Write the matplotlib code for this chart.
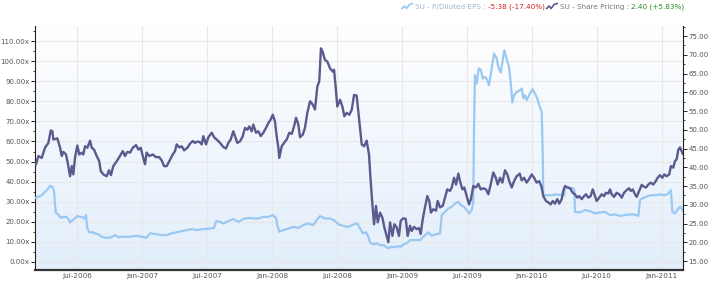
import numpy as np
import matplotlib
matplotlib.use("Agg")
import matplotlib.pyplot as plt
from matplotlib.ticker import MultipleLocator, FuncFormatter
from matplotlib.colors import LinearSegmentedColormap

# ---- data (x as decimal year) ----
price_t = [2006.182, 2006.200, 2006.226, 2006.251, 2006.277, 2006.295, 2006.308, 2006.315, 2006.346, 2006.367,
           2006.380, 2006.392, 2006.413, 2006.426, 2006.444, 2006.457, 2006.469, 2006.482, 2006.500, 2006.515,
           2006.534, 2006.546, 2006.559, 2006.577, 2006.598, 2006.611, 2006.629, 2006.649, 2006.669, 2006.680,
           2006.700, 2006.726, 2006.744, 2006.759, 2006.777, 2006.803, 2006.823, 2006.850, 2006.867, 2006.885,
           2006.906, 2006.927, 2006.952, 2006.970, 2006.988, 2007.004, 2007.021, 2007.034, 2007.054, 2007.081,
           2007.106, 2007.131, 2007.150, 2007.168, 2007.188, 2007.208, 2007.235, 2007.252, 2007.265, 2007.285,
           2007.304, 2007.322, 2007.347, 2007.368, 2007.389, 2007.406, 2007.419, 2007.439, 2007.458, 2007.470,
           2007.491, 2007.509, 2007.535, 2007.553, 2007.573, 2007.599, 2007.624, 2007.645, 2007.663, 2007.681,
           2007.701, 2007.714, 2007.732, 2007.753, 2007.774, 2007.791, 2007.809, 2007.824, 2007.843, 2007.855,
           2007.876, 2007.894, 2007.912, 2007.932, 2007.953, 2007.971, 2007.989, 2008.005, 2008.022, 2008.035,
           2008.048, 2008.055, 2008.074, 2008.092, 2008.112, 2008.132, 2008.151, 2008.169, 2008.184, 2008.202,
           2008.215, 2008.236, 2008.253, 2008.271, 2008.292, 2008.313, 2008.330, 2008.348, 2008.363, 2008.376,
           2008.389, 2008.407, 2008.425, 2008.446, 2008.467, 2008.477, 2008.490, 2008.502, 2008.523, 2008.541,
           2008.556, 2008.574, 2008.594, 2008.613, 2008.631, 2008.651, 2008.671, 2008.690, 2008.708, 2008.728,
           2008.746, 2008.759, 2008.775, 2008.785, 2008.800, 2008.813, 2008.831, 2008.849, 2008.864, 2008.882,
           2008.895, 2008.908, 2008.926, 2008.941, 2008.959, 2008.977, 2008.990, 2009.010, 2009.029, 2009.044,
           2009.062, 2009.075, 2009.093, 2009.113, 2009.131, 2009.144, 2009.160, 2009.177, 2009.195, 2009.210,
           2009.223, 2009.241, 2009.262, 2009.275, 2009.293, 2009.314, 2009.331, 2009.349, 2009.370, 2009.383,
           2009.401, 2009.416, 2009.434, 2009.447, 2009.465, 2009.480, 2009.498, 2009.516, 2009.531, 2009.549,
           2009.570, 2009.588, 2009.606, 2009.626, 2009.647, 2009.665, 2009.683, 2009.703, 2009.722, 2009.737,
           2009.755, 2009.773, 2009.793, 2009.811, 2009.826, 2009.845, 2009.863, 2009.883, 2009.907, 2009.922,
           2009.940, 2009.960, 2009.978, 2009.999, 2010.017, 2010.037, 2010.057, 2010.076, 2010.088, 2010.109,
           2010.127, 2010.145, 2010.161, 2010.178, 2010.196, 2010.211, 2010.230, 2010.242, 2010.255, 2010.273,
           2010.294, 2010.315, 2010.332, 2010.350, 2010.365, 2010.384, 2010.402, 2010.417, 2010.435, 2010.453,
           2010.469, 2010.486, 2010.499, 2010.519, 2010.538, 2010.556, 2010.571, 2010.589, 2010.602, 2010.615,
           2010.633, 2010.653, 2010.673, 2010.692, 2010.710, 2010.730, 2010.748, 2010.761, 2010.777, 2010.794,
           2010.807, 2010.827, 2010.846, 2010.864, 2010.879, 2010.897, 2010.915, 2010.935, 2010.954, 2010.969,
           2010.987, 2011.005, 2011.020, 2011.038, 2011.058, 2011.071, 2011.089, 2011.102, 2011.115, 2011.128,
           2011.141, 2011.162]
price_v = [40.8, 43.0, 42.5, 45.2, 46.5, 49.8, 49.6, 47.4, 47.7, 45.2,
           43.0, 44.1, 43.4, 41.2, 37.6, 40.3, 38.1, 42.5, 45.8, 43.4,
           43.9, 43.4, 45.6, 45.2, 47.1, 45.2, 44.7, 43.0, 41.6, 39.0,
           38.1, 37.6, 39.2, 37.9, 40.3, 41.6, 42.7, 44.3, 43.0, 44.1,
           43.9, 45.2, 45.9, 44.7, 45.2, 43.0, 40.8, 43.9, 43.0, 43.4,
           42.7, 42.7, 41.8, 40.3, 40.3, 41.6, 43.4, 44.3, 46.1, 45.3,
           45.6, 44.5, 45.2, 46.3, 47.0, 46.5, 46.8, 46.8, 46.1, 48.3,
           46.1, 48.0, 49.2, 48.0, 47.4, 46.5, 45.4, 45.0, 46.5, 47.4,
           49.6, 48.3, 46.5, 46.9, 48.3, 50.5, 50.0, 50.9, 49.6, 51.4,
           49.2, 49.6, 48.3, 49.2, 50.5, 51.8, 52.7, 54.0, 52.2, 48.3,
           45.2, 42.5, 45.6, 46.5, 47.4, 49.2, 48.9, 50.9, 53.2, 51.4,
           48.0, 48.7, 50.5, 54.5, 57.6, 56.7, 55.4, 61.5, 62.9, 71.7,
           70.8, 68.6, 68.2, 66.4, 65.5, 66.0, 61.1, 56.2, 58.0, 56.2,
           53.6, 54.5, 54.0, 55.3, 59.3, 59.1, 52.5, 46.1, 45.6, 47.1,
           43.4, 36.3, 28.8, 24.8, 29.7, 25.3, 27.9, 26.6, 24.0, 21.7,
           20.0, 25.3, 21.7, 24.8, 24.0, 21.7, 25.7, 26.4, 26.2, 21.7,
           24.4, 23.0, 24.1, 23.5, 23.8, 22.2, 26.2, 29.3, 32.3, 31.0,
           27.9, 28.8, 28.4, 31.0, 29.3, 29.7, 31.9, 34.1, 33.7, 34.6,
           37.2, 35.4, 38.3, 36.3, 34.1, 34.6, 32.3, 30.1, 31.5, 35.0,
           34.6, 35.6, 34.1, 34.4, 34.1, 32.8, 35.4, 38.6, 37.2, 35.4,
           37.2, 35.9, 39.2, 38.1, 36.3, 34.6, 36.3, 37.6, 38.3, 36.5,
           37.2, 35.9, 36.8, 38.1, 37.2, 35.9, 36.3, 34.6, 32.3, 31.0,
           30.6, 30.1, 31.0, 30.3, 31.5, 30.3, 31.5, 33.7, 35.0, 34.6,
           34.4, 33.2, 32.8, 31.9, 32.3, 31.5, 32.3, 32.8, 31.9, 32.3,
           34.1, 32.3, 31.0, 31.9, 32.8, 32.3, 33.2, 33.0, 34.1, 32.8,
           32.1, 33.2, 32.8, 31.9, 33.2, 33.9, 34.4, 33.7, 34.1, 32.8,
           32.1, 33.7, 35.3, 34.8, 34.6, 35.4, 35.9, 35.4, 36.3, 37.2,
           37.9, 37.2, 38.1, 37.6, 38.1, 40.3, 39.9, 41.6, 42.1, 44.7,
           45.3, 43.6]

pe_t = [2006.182, 2006.200, 2006.226, 2006.251, 2006.277, 2006.290, 2006.308, 2006.321, 2006.328, 2006.336,
        2006.354, 2006.372, 2006.392, 2006.413, 2006.431, 2006.444, 2006.465, 2006.482, 2006.500, 2006.515,
        2006.534, 2006.552, 2006.567, 2006.577, 2006.592, 2006.619, 2006.636, 2006.662, 2006.688, 2006.713,
        2006.752, 2006.790, 2006.816, 2006.854, 2006.906, 2006.957, 2006.996, 2007.034, 2007.060, 2007.098,
        2007.150, 2007.188, 2007.227, 2007.265, 2007.304, 2007.342, 2007.381, 2007.419, 2007.470, 2007.522,
        2007.553, 2007.568, 2007.599, 2007.624, 2007.663, 2007.701, 2007.740, 2007.778, 2007.817, 2007.855,
        2007.894, 2007.932, 2007.971, 2008.005, 2008.030, 2008.040, 2008.055, 2008.086, 2008.125, 2008.163,
        2008.202, 2008.240, 2008.279, 2008.317, 2008.343, 2008.369, 2008.407, 2008.446, 2008.477, 2008.510,
        2008.548, 2008.587, 2008.625, 2008.656, 2008.677, 2008.698, 2008.723, 2008.741, 2008.754, 2008.779,
        2008.805, 2008.831, 2008.856, 2008.895, 2008.921, 2008.946, 2008.972, 2008.990, 2009.010, 2009.036,
        2009.062, 2009.100, 2009.139, 2009.164, 2009.203, 2009.229, 2009.262, 2009.293, 2009.306, 2009.331,
        2009.357, 2009.383, 2009.408, 2009.434, 2009.452, 2009.478, 2009.498, 2009.518, 2009.537, 2009.549,
        2009.555, 2009.562, 2009.575, 2009.591, 2009.608, 2009.622, 2009.639, 2009.652, 2009.670, 2009.691,
        2009.709, 2009.729, 2009.742, 2009.760, 2009.776, 2009.788, 2009.806, 2009.824, 2009.837, 2009.850,
        2009.863, 2009.883, 2009.909, 2009.922, 2009.934, 2009.947, 2009.960, 2009.973, 2009.991, 2010.007,
        2010.024, 2010.042, 2010.057, 2010.076, 2010.084, 2010.088, 2010.114, 2010.153, 2010.191, 2010.230,
        2010.250, 2010.255, 2010.288, 2010.319, 2010.327, 2010.332, 2010.371, 2010.409, 2010.448, 2010.486,
        2010.525, 2010.563, 2010.602, 2010.640, 2010.679, 2010.717, 2010.756, 2010.787, 2010.820, 2010.833,
        2010.858, 2010.884, 2010.910, 2010.948, 2010.987, 2011.025, 2011.051, 2011.071, 2011.082, 2011.102,
        2011.128, 2011.146, 2011.164]
pe_v = [31.9, 32.4, 33.2, 34.9, 36.6, 37.9, 37.4, 34.9, 28.3, 24.1,
        23.6, 21.9, 22.4, 22.4, 21.3, 19.6, 20.8, 21.6, 22.9, 22.4,
        22.4, 21.6, 23.3, 16.7, 14.7, 14.7, 14.2, 13.7, 12.5, 12.0,
        12.0, 13.3, 12.2, 12.5, 12.5, 13.0, 12.5, 12.0, 14.2, 13.8,
        13.3, 13.3, 14.2, 14.7, 15.3, 15.8, 16.3, 15.8, 16.3, 16.6,
        16.9, 20.3, 19.9, 19.1, 20.3, 21.3, 19.9, 21.3, 21.9, 21.6,
        21.6, 22.4, 22.4, 23.3, 21.9, 18.3, 15.0, 15.8, 16.6, 17.4,
        16.9, 18.3, 19.1, 18.3, 20.8, 22.8, 21.6, 21.6, 20.8, 18.6,
        17.9, 17.4, 18.6, 19.1, 16.6, 14.2, 14.7, 12.5, 9.7, 8.7,
        9.2, 8.3, 8.3, 6.7, 7.5, 7.2, 7.8, 7.5, 8.7, 9.2,
        10.8, 10.8, 10.8, 12.5, 14.7, 13.0, 13.7, 14.2, 23.3, 24.9,
        26.6, 27.4, 29.1, 29.9, 28.3, 27.4, 25.8, 24.1, 25.8, 29.9,
        68.1, 93.1, 88.9, 96.4, 95.6, 91.4, 92.2, 91.4, 88.1, 96.4,
        103.9, 101.4, 97.2, 94.4, 100.5, 105.5, 101.4, 97.2, 89.7, 79.5,
        83.1, 84.7, 85.6, 86.4, 81.5, 83.1, 80.6, 82.3, 84.7, 86.1,
        83.9, 81.5, 78.1, 74.8, 53.2, 33.2, 33.2, 33.2, 33.6, 33.2,
        33.2, 37.4, 36.9, 36.6, 36.0, 24.9, 24.6, 25.8, 25.3, 24.1,
        24.6, 24.9, 23.3, 23.6, 22.9, 23.3, 23.6, 23.6, 22.9, 30.8,
        31.9, 32.4, 33.2, 33.2, 33.6, 33.2, 34.1, 35.7, 24.9, 24.1,
        26.6, 27.4, 25.5]

tick_pos = [2006.5, 2007.0, 2007.5, 2008.0, 2008.5, 2009.0, 2009.5, 2010.0, 2010.5, 2011.0]
tick_labels = ["Jul-2006", "Jan-2007", "Jul-2007", "Jan-2008", "Jul-2008",
               "Jan-2009", "Jul-2009", "Jan-2010", "Jul-2010", "Jan-2011"]

LIGHT = "#99c9f2"
DARK = "#5b5a8e"
TXT = "#555555"

fig = plt.figure(figsize=(7.09, 2.84), dpi=100)
fig.patch.set_facecolor("white")
ax = fig.add_axes([35/709, 14/284, (683-35)/709, (270-26)/284])
ax2 = ax.twinx()

# gradient background: white at top, light blue at bottom
grad = np.linspace(0, 1, 256).reshape(-1, 1)
cmap = LinearSegmentedColormap.from_list("bg", ["#ffffff", "#e2eefb"])
ax.imshow(grad, extent=[0, 1, 0, 1], origin="upper", transform=ax.transAxes, aspect="auto",
          cmap=cmap, zorder=0, interpolation="bilinear")

ax.plot(pe_t, pe_v, color=LIGHT, lw=1.6, zorder=3, solid_joinstyle="round")
ax2.plot(price_t, price_v, color=DARK, lw=1.7, zorder=3, solid_joinstyle="round")

ax.set_xticks(tick_pos)
ax.set_xticklabels(tick_labels)
ax.yaxis.set_major_locator(MultipleLocator(10))
ax.yaxis.set_minor_locator(MultipleLocator(5))
ax.yaxis.set_major_formatter(FuncFormatter(lambda v, p: f"{v:.2f}x"))
ax2.yaxis.set_major_locator(MultipleLocator(5))
ax2.yaxis.set_minor_locator(MultipleLocator(2.5))
ax2.yaxis.set_major_formatter(FuncFormatter(lambda v, p: f"{v:.2f}"))
ax.set_xlim(2006.174, 2011.164)
ax.set_ylim(-4.1, 117.6)
ax2.set_ylim(12.6, 77.67)

ax.grid(True, which="major", color="#e8e8e8", lw=0.8, zorder=1)
ax.set_axisbelow(True)

for a in (ax, ax2):
    a.spines["top"].set_visible(False)
ax.spines["left"].set_color("#222222")
ax.spines["left"].set_linewidth(0.8)
ax.spines["right"].set_visible(False)
ax2.spines["left"].set_visible(False)
ax2.spines["bottom"].set_visible(False)
ax2.spines["right"].set_color("#222222")
ax2.spines["right"].set_linewidth(0.8)
ax.spines["bottom"].set_color("#333333")
ax.spines["bottom"].set_linewidth(1.6)

ax.tick_params(axis="y", which="major", length=3, width=0.7, labelsize=5, colors="#222222", labelcolor=TXT, pad=1)
ax.tick_params(axis="y", which="minor", length=1.5, width=0.6, colors="#222222")
ax2.tick_params(axis="y", which="major", length=3, width=0.7, labelsize=5, colors="#222222", labelcolor=TXT, pad=1)
ax2.tick_params(axis="y", which="minor", length=1.5, width=0.6, colors="#222222")
ax.tick_params(axis="x", length=0, labelsize=5.2, labelcolor=TXT, pad=2)

# header legend
fig.canvas.draw()
r = fig.canvas.get_renderer()
ypos = 1 - 7/284

def icon(x0, color):
    xs = np.array([0, 2.5, 4.5, 7.5, 10.5]) / 709 + x0
    ys = np.array([-1.5, 1.0, -1.5, 2.5, 3.5]) / 284 + ypos
    fig.add_artist(plt.Line2D(xs, ys, color=color, lw=1.2, transform=fig.transFigure))
    return x0 + 13/709

def chain(x0, s, color):
    t = fig.text(x0, ypos, s, fontsize=5.2, color=color, va="center", ha="left")
    bb = t.get_window_extent(renderer=r)
    return x0 + bb.width / 709 + 2/709

x = 402/709
x = icon(x, LIGHT)
x = chain(x, "SU - P/Diluted EPS :", "#9fb7d0")
x = chain(x, "-5.38 (-17.40%)", "#d42020")
x = icon(x, DARK)
x = chain(x, "SU - Share Pricing :", "#777777")
x = chain(x, "2.40 (+5.83%)", "#2a8a2a")

fig.savefig("out.png", dpi=100, facecolor="white")
